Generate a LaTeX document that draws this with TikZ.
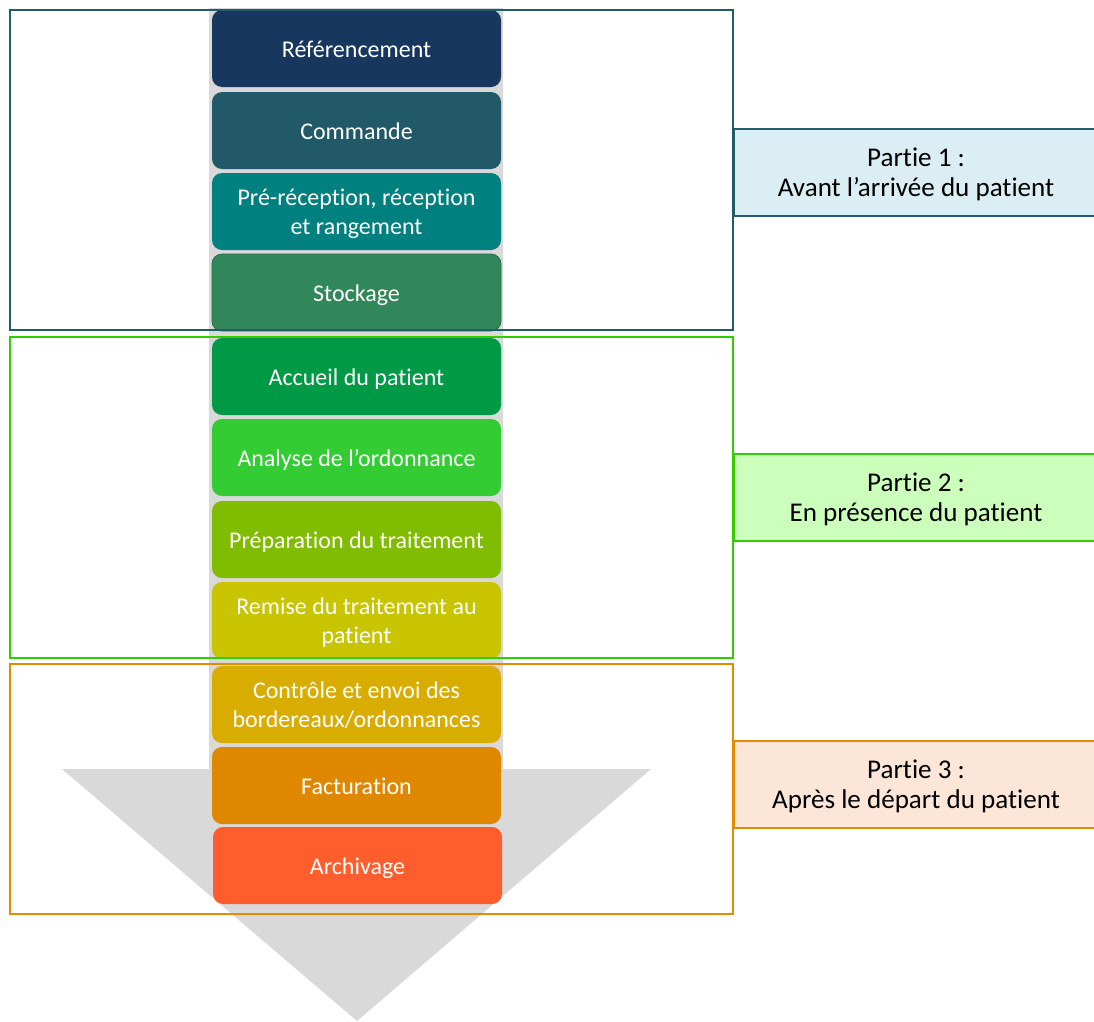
\documentclass[tikz,border=0pt]{standalone}
\usepackage{fontspec}
\setmainfont{Carlito}[Ligatures={NoCommon,TeX}]
\definecolor{arrowgray}{HTML}{D9D9D9}
\definecolor{cRef}{HTML}{17375E}
\definecolor{cCom}{HTML}{215968}
\definecolor{cPre}{HTML}{00807F}
\definecolor{cSto}{HTML}{31865A}
\definecolor{cAcc}{HTML}{009A46}
\definecolor{cAna}{HTML}{33CC33}
\definecolor{cPrep}{HTML}{80BC00}
\definecolor{cRem}{HTML}{C9C400}
\definecolor{cCon}{HTML}{D9AD00}
\definecolor{cFac}{HTML}{E08700}
\definecolor{cArc}{HTML}{FF5E2C}
\definecolor{fOne}{HTML}{235B6B}
\definecolor{fTwo}{HTML}{33CC00}
\definecolor{fThree}{HTML}{E68A00}
\definecolor{lOne}{HTML}{DAEEF3}
\definecolor{lTwo}{HTML}{CCFFBB}
\definecolor{lThree}{HTML}{FCE6D8}
\tikzset{
  stepbox/.style={rounded corners=7.5pt, minimum width=216.75pt, minimum height=57.75pt,
    inner sep=0pt},
  steptext/.style={align=flush center, text=white, inner sep=0pt, anchor=base,
    font=\fontsize{18}{21.4}\selectfont},
  partframe/.style={line width=2.2pt},
  partlabel/.style={line width=2.2pt},
  labeltext/.style={align=flush center, text=black, inner sep=0pt, anchor=base,
    font=\fontsize{20.3}{22.5}\selectfont}
}
\begin{document}
\begin{tikzpicture}[x=0.75pt,y=-0.75pt]
\useasboundingbox (0,0) rectangle (1094,1021);
% grey arrow
\fill[arrowgray] (209,8) -- (503,8) -- (503,769) -- (651,769) -- (357,1021) -- (62,769) -- (209,769) -- cycle;
% steps (boxes)
\node[stepbox, fill=cRef]  (ref)  at (356.5,48.5)  {};
\node[stepbox, fill=cCom]  (com)  at (356.5,130.5) {};
\node[stepbox, fill=cPre]  (pre)  at (356.5,211.5) {};
\node[stepbox, fill=cSto, draw=cSto!80!black, line width=0.6pt]  (sto)  at (356.5,292.5) {};
\node[stepbox, fill=cAcc]  (acc)  at (356.5,376.5) {};
\node[stepbox, fill=cAna]  (ana)  at (356.5,457.5) {};
\node[stepbox, fill=cPrep] (prep) at (356.5,539.5) {};
\node[stepbox, fill=cRem]  (rem)  at (356.5,620.5) {};
\node[stepbox, fill=cCon]  (con)  at (356.5,704.5) {};
\node[stepbox, fill=cFac]  (fac)  at (356.5,785.5) {};
\node[stepbox, fill=cArc]  (arc)  at (357.5,865.5) {};
% step texts (anchor = baseline of last line)
\node[steptext] (ref-t)  at ([yshift=-6.75pt]ref.center)  {Référencement};
\node[steptext] (com-t)  at ([yshift=-6.75pt]com.center)  {Commande};
\node[steptext] (pre-t)  at ([yshift=-17pt]pre.center)    {Pré-réception, réception\\et rangement};
\node[steptext] (sto-t)  at ([yshift=-6.75pt]sto.center)  {Stockage};
\node[steptext] (acc-t)  at ([yshift=-6.75pt]acc.center)  {Accueil du patient};
\node[steptext] (ana-t)  at ([yshift=-6.75pt]ana.center)  {Analyse de l’ordonnance};
\node[steptext] (prep-t) at ([yshift=-6.75pt]prep.center) {Préparation du traitement};
\node[steptext] (rem-t)  at ([yshift=-17pt]rem.center)    {Remise du traitement au\\patient};
\node[steptext] (con-t)  at ([yshift=-17pt]con.center)    {Contrôle et envoi des\\bordereaux/ordonnances};
\node[steptext] (fac-t)  at ([yshift=-6.75pt]fac.center)  {Facturation};
\node[steptext] (arc-t)  at ([yshift=-6.75pt]arc.center)  {Archivage};
% part frames
\draw[partframe, draw=fOne]   (10,10)  rectangle (733,330);
\draw[partframe, draw=fTwo]   (10,337) rectangle (733,658);
\draw[partframe, draw=fThree] (10,664) rectangle (733,914);
% part labels
\draw[partlabel, draw=fOne, fill=lOne]     (734,129) rectangle (1100,216);
\draw[partlabel, draw=fTwo, fill=lTwo]     (734,454) rectangle (1100,541);
\draw[partlabel, draw=fThree, fill=lThree] (734,741) rectangle (1100,828);
\node[labeltext] (p1) at (916,196) {Partie 1 :\\Avant l’arrivée du patient};
\node[labeltext] (p2) at (916,521) {Partie 2 :\\En présence du patient};
\node[labeltext] (p3) at (916,808) {Partie 3 :\\Après le départ du patient};
\end{tikzpicture}
\end{document}
